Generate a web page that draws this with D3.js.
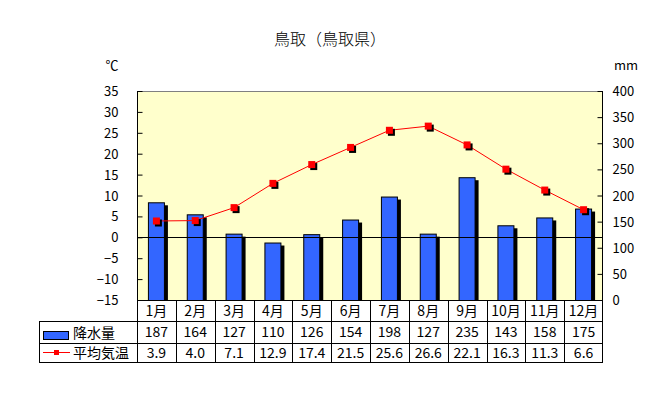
<!DOCTYPE html>
<html>
<head>
<meta charset="utf-8">
<script src="https://cdn.jsdelivr.net/npm/d3@7"></script>
<style>
  body { margin: 0; background: #fff; }
  text { font-family: "Noto Sans CJK JP", "DejaVu Sans", sans-serif; font-size: 13px; fill: #000; }
</style>
</head>
<body>
<div id="chart"></div>
<script>
const months = ['1月', '2月', '3月', '4月', '5月', '6月', '7月', '8月', '9月', '10月', '11月', '12月']
const rain = [187, 164, 127, 110, 126, 154, 198, 127, 235, 143, 158, 175]
const temp = [3.9, 4.0, 7.1, 12.9, 17.4, 21.5, 25.6, 26.6, 22.1, 16.3, 11.3, 6.6]
const tempTicks = [-15, -10, -5, 0, 5, 10, 15, 20, 25, 30, 35]
const rainTicks = [0, 50, 100, 150, 200, 250, 300, 350, 400]

let width = 654
let height = 399
let plot = { left: 137, right: 603, top: 91, bottom: 300 }
let rowY = [300, 321, 343, 362]
let tableLeft = 39

let blue = '#3366ff'
let red = '#ff0000'

let svg = d3.select('#chart').append('svg')
  .attr('width', width)
  .attr('height', height)

let x = d3.scaleBand().domain(months).range([plot.left, plot.right])
let yT = d3.scaleLinear().domain([-15, 35]).range([plot.bottom, plot.top])
let yR = d3.scaleLinear().domain([0, 400]).range([plot.bottom, plot.top])

// background
svg.append('rect')
  .attr('x', plot.left).attr('y', plot.top)
  .attr('width', plot.right - plot.left).attr('height', plot.bottom - plot.top)
  .attr('fill', '#ffffcc')
svg.append('line')
  .attr('x1', plot.left).attr('x2', plot.right)
  .attr('y1', plot.top + 0.5).attr('y2', plot.top + 0.5)
  .attr('stroke', '#808080')

// title
svg.append('text')
  .attr('x', 330).attr('y', 45)
  .attr('text-anchor', 'middle')
  .style('font-size', '16px')
  .style('font-weight', '300')
  .text('鳥取（鳥取県）')
svg.append('text').attr('x', 112).attr('y', 70).attr('text-anchor', 'middle').text('℃')
svg.append('text').attr('x', 626).attr('y', 70).attr('text-anchor', 'middle').text('mm')

// axes
let axisL = d3.axisRight(yT).tickValues(tempTicks).tickSize(5).tickFormat(d => d < 0 ? '−' + Math.abs(d) : d)
let gL = svg.append('g').attr('transform', 'translate(' + (plot.left + 0.5) + ',0)').call(axisL)
gL.select('.domain').remove()
gL.append('line').attr('y1', plot.top).attr('y2', plot.bottom).attr('stroke', '#000')
gL.selectAll('.tick line').attr('stroke', '#000')
gL.selectAll('.tick text').attr('x', -19).attr('text-anchor', 'end').attr('dy', '0.35em')

let axisR = d3.axisLeft(yR).tickValues(rainTicks).tickSize(5)
let gR = svg.append('g').attr('transform', 'translate(' + (plot.right - 0.5) + ',0)').call(axisR)
gR.select('.domain').remove()
gR.append('line').attr('y1', plot.top).attr('y2', plot.bottom).attr('stroke', '#000')
gR.selectAll('.tick line').attr('stroke', '#000')
gR.selectAll('.tick text').attr('x', 10).attr('text-anchor', 'start').attr('dy', '0.35em')
svg.selectAll('.tick text').style('font-family', '"Noto Sans CJK JP", sans-serif').style('font-size', '13px')

// bars
let barW = 17
let bars = svg.append('g')
bars.selectAll('rect.shadow').data(rain).enter().append('rect')
  .attr('class', 'shadow')
  .attr('x', (d, i) => x(months[i]) + x.bandwidth() / 2 - barW / 2 + 3)
  .attr('y', d => yR(d) + 3)
  .attr('width', barW)
  .attr('height', d => plot.bottom - yR(d) - 3)
  .attr('fill', '#000')
bars.selectAll('rect.bar').data(rain).enter().append('rect')
  .attr('class', 'bar')
  .attr('x', (d, i) => x(months[i]) + x.bandwidth() / 2 - barW / 2 + 0.5)
  .attr('y', d => yR(d) + 0.5)
  .attr('width', barW - 1)
  .attr('height', d => plot.bottom - yR(d))
  .attr('fill', blue)
  .attr('stroke', '#000')

// zero line
svg.append('line')
  .attr('x1', plot.left).attr('x2', plot.right)
  .attr('y1', Math.round(yT(0)) + 0.5).attr('y2', Math.round(yT(0)) + 0.5)
  .attr('stroke', '#000')

// temperature line
let line = d3.line()
  .x((d, i) => x(months[i]) + x.bandwidth() / 2)
  .y(d => yT(d))
svg.append('path').datum(temp)
  .attr('d', line)
  .attr('fill', 'none')
  .attr('stroke', red)
  .attr('stroke-width', 1)
let ms = 7
svg.append('g').selectAll('rect').data(temp).enter().append('rect')
  .attr('x', (d, i) => x(months[i]) + x.bandwidth() / 2 - ms / 2 + 2)
  .attr('y', d => yT(d) - ms / 2 + 2)
  .attr('width', ms).attr('height', ms)
  .attr('fill', '#000')
svg.append('g').selectAll('rect').data(temp).enter().append('rect')
  .attr('x', (d, i) => x(months[i]) + x.bandwidth() / 2 - ms / 2)
  .attr('y', d => yT(d) - ms / 2)
  .attr('width', ms).attr('height', ms)
  .attr('fill', red)

// data table
let table = svg.append('g').attr('stroke', '#000').attr('stroke-width', 1)
table.append('line').attr('x1', plot.left).attr('x2', plot.right).attr('y1', rowY[0] + 0.5).attr('y2', rowY[0] + 0.5)
rowY.slice(1).forEach(y => {
  table.append('line').attr('x1', tableLeft).attr('x2', plot.right).attr('y1', y + 0.5).attr('y2', y + 0.5)
})
table.append('line').attr('x1', tableLeft + 0.5).attr('x2', tableLeft + 0.5).attr('y1', rowY[1]).attr('y2', rowY[3] + 1)
months.forEach(m => {
  let xv = Math.round(x(m)) + 0.5
  table.append('line').attr('x1', xv).attr('x2', xv).attr('y1', rowY[0]).attr('y2', rowY[3] + 1)
})
table.append('line').attr('x1', plot.right - 0.5).attr('x2', plot.right - 0.5).attr('y1', rowY[0]).attr('y2', rowY[3] + 1)

let rows = [months, rain, temp.map(d => d.toFixed(1))]
rows.forEach((vals, r) => {
  svg.append('g').selectAll('text').data(vals).enter().append('text')
    .attr('x', (d, i) => x(months[i]) + x.bandwidth() / 2)
    .attr('y', (rowY[r] + rowY[r + 1]) / 2 + 5)
    .attr('text-anchor', 'middle')
    .style('font-size', '14px')
    .text(d => d)
})

// legend cells
svg.append('rect')
  .attr('x', 43.5).attr('y', 331.5).attr('width', 25).attr('height', 8)
  .attr('fill', blue).attr('stroke', '#000')
svg.append('text').attr('x', 73).attr('y', 338).style('font-size', '14px').text('降水量')
svg.append('line')
  .attr('x1', 43).attr('x2', 70).attr('y1', 352.5).attr('y2', 352.5)
  .attr('stroke', red)
svg.append('rect')
  .attr('x', 54).attr('y', 350).attr('width', 5).attr('height', 5)
  .attr('fill', red)
svg.append('text').attr('x', 73).attr('y', 358).style('font-size', '14px').text('平均気温')
</script>
</body>
</html>
